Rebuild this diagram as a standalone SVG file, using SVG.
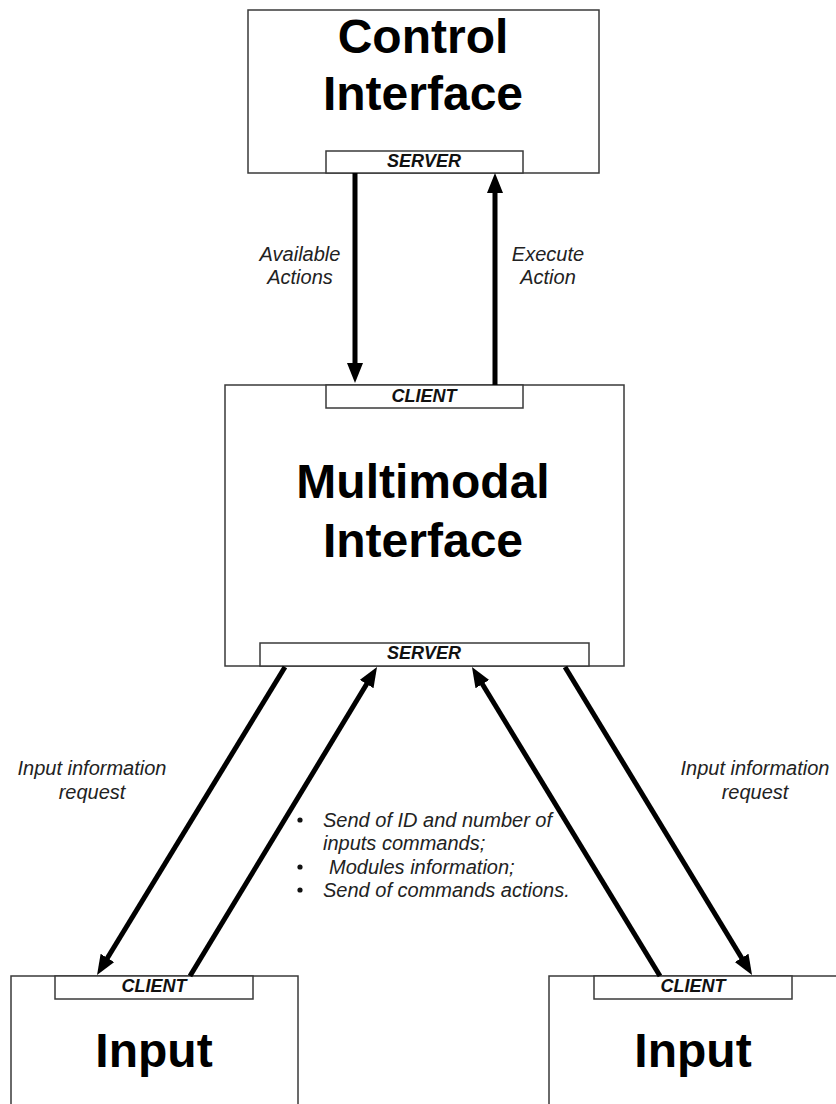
<svg xmlns="http://www.w3.org/2000/svg" width="836" height="1104" viewBox="0 0 836 1104">
  <style>
    .box { fill: #ffffff; stroke: #3a3a3a; stroke-width: 1.5; }
    .tab { fill: #ffffff; stroke: #3a3a3a; stroke-width: 1.5; }
    .title { font-family: "Liberation Sans", Arial, sans-serif; font-weight: bold; font-size: 48px; fill: #000; text-anchor: middle; }
    .tabtxt { font-family: "Liberation Sans", Arial, sans-serif; font-weight: bold; font-style: italic; font-size: 18px; fill: #111; text-anchor: middle; }
    .lbl { font-family: "Liberation Sans", Arial, sans-serif; font-style: italic; font-size: 20px; fill: #222; }
    .mid { text-anchor: middle; }
    .dot { fill: #111; }
    .conn { stroke: #000; stroke-width: 5; fill: none; marker-end: url(#head); }
  </style>
  <defs>
    <marker id="head" markerUnits="userSpaceOnUse" markerWidth="22" markerHeight="18" refX="8" refY="8" orient="auto">
      <path d="M0,0 L20,8 L0,16 z" fill="#000"/>
    </marker>
  </defs>
  <rect width="836" height="1104" fill="#ffffff"/>

  <!-- Control Interface -->
  <g id="control-interface">
    <rect class="box" x="248" y="10" width="351" height="163"/>
    <text class="title" x="423" y="53">Control</text>
    <text class="title" x="423" y="110">Interface</text>
    <rect class="tab" x="326" y="151" width="197" height="22"/>
    <text class="tabtxt" x="424" y="167">SERVER</text>
  </g>

  <!-- Multimodal Interface -->
  <g id="multimodal-interface">
    <rect class="box" x="225" y="385" width="399" height="281"/>
    <rect class="tab" x="326" y="385" width="197" height="23"/>
    <text class="tabtxt" x="424" y="402">CLIENT</text>
    <text class="title" x="423" y="498">Multimodal</text>
    <text class="title" x="423" y="557">Interface</text>
    <rect class="tab" x="260" y="643" width="329" height="23"/>
    <text class="tabtxt" x="424" y="659">SERVER</text>
  </g>

  <!-- Input (left) -->
  <g id="input-left">
    <rect class="box" x="11" y="976" width="287" height="140"/>
    <rect class="tab" x="55" y="976" width="198" height="23"/>
    <text class="tabtxt" x="154" y="992">CLIENT</text>
    <text class="title" x="154" y="1067">Input</text>
  </g>

  <!-- Input (right) -->
  <g id="input-right">
    <rect class="box" x="549" y="976" width="300" height="140"/>
    <rect class="tab" x="594" y="976" width="198" height="23"/>
    <text class="tabtxt" x="693" y="992">CLIENT</text>
    <text class="title" x="693" y="1067">Input</text>
  </g>

  <!-- Connectors -->
  <g id="connectors">
    <line class="conn" x1="355" y1="173" x2="355" y2="371"/>
    <line class="conn" x1="495" y1="385" x2="495" y2="185"/>
    <line class="conn" x1="285" y1="667" x2="103.3" y2="964.8"/>
    <line class="conn" x1="190" y1="976" x2="370.8" y2="677.3"/>
    <line class="conn" x1="660" y1="976" x2="478.2" y2="677.3"/>
    <line class="conn" x1="565" y1="667" x2="745.8" y2="964.7"/>
  </g>

  <!-- Connector labels -->
  <g id="labels">
    <text class="lbl mid" x="300" y="261">Available</text>
    <text class="lbl mid" x="300" y="284">Actions</text>
    <text class="lbl mid" x="548" y="261">Execute</text>
    <text class="lbl mid" x="548" y="284">Action</text>
    <text class="lbl mid" x="92" y="775">Input information</text>
    <text class="lbl mid" x="92" y="799">request</text>
    <text class="lbl mid" x="755" y="775">Input information</text>
    <text class="lbl mid" x="755" y="799">request</text>
    <circle class="dot" cx="300" cy="820" r="2.6"/>
    <text class="lbl" x="323" y="827">Send of ID and number of</text>
    <text class="lbl" x="323" y="850">inputs commands;</text>
    <circle class="dot" cx="300" cy="867" r="2.6"/>
    <text class="lbl" x="329" y="874">Modules information;</text>
    <circle class="dot" cx="300" cy="890" r="2.6"/>
    <text class="lbl" x="323" y="897">Send of commands actions.</text>
  </g>
</svg>
